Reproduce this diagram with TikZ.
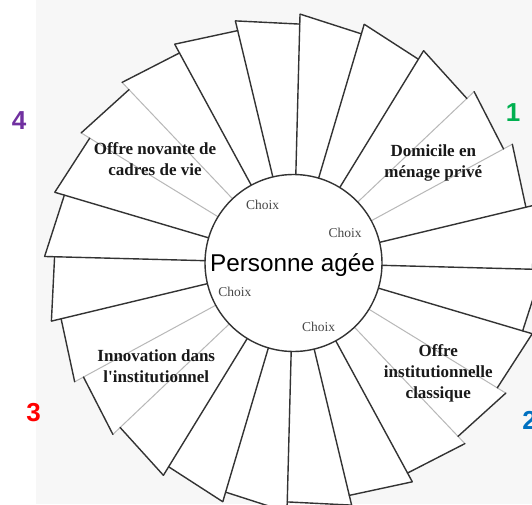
\documentclass[tikz,border=0pt]{standalone}
\usepackage{fontspec}
\setmainfont{Liberation Serif}[Ligatures=TeXOff]
\newfontfamily\arialf{Liberation Sans}
\definecolor{numgreen}{HTML}{00B050}
\definecolor{numblue}{HTML}{0070C0}
\definecolor{numred}{HTML}{FF0000}
\definecolor{numpurple}{HTML}{7030A0}
\definecolor{linedark}{HTML}{333333}
\definecolor{linelight}{HTML}{B8B8B8}
\begin{document}
\begin{tikzpicture}[x=1pt,y=1pt,
  darkedge/.style={draw=linedark, line width=1.4pt, line join=miter},
  lightedge/.style={draw=linelight, line width=1pt},
  lbl/.style={font=\fontsize{17}{21}\selectfont\bfseries, align=center, text=black!90, inner sep=0pt},
  choix/.style={font=\fontsize{13.5}{16}\selectfont, text=black!72, inner sep=0pt, anchor=base},
  num/.style={font=\arialf\fontsize{26}{30}\selectfont\bfseries, inner sep=0pt}]
\useasboundingbox (0,0) rectangle (532,504);
\clip (0,0) rectangle (532,504);
\fill[black!3] (36,0) rectangle (532,504);
\coordinate (C) at (293.5,241);
\def\Ri{88.5}
\def\Ro{249}
\def\Rt{239}
% card faces
\foreach \k in {0,...,23} {
  \pgfmathsetmacro\a{88.5-15*\k}
  \pgfmathsetmacro\b{\a-15}
  \fill[white] ([shift={(C)}]\a:\Ri) -- ([shift={(C)}]\a:\Ro) -- ([shift={(C)}]\b:\Rt) -- ([shift={(C)}]\b:\Ri) -- cycle;
}
% light leading edges
\foreach \k in {3,4,8,9,15,16,20,21} {
  \pgfmathsetmacro\a{88.5-15*\k}
  \draw[lightedge] ([shift={(C)}]\a:\Ri) -- ([shift={(C)}]\a:\Ro);
}
% dark leading edges
\foreach \k in {0,1,2,5,6,7,10,11,12,13,14,17,18,19,22,23} {
  \pgfmathsetmacro\a{88.5-15*\k}
  \draw[darkedge] ([shift={(C)}]\a:\Ri) -- ([shift={(C)}]\a:\Ro);
}
% outer edges
\foreach \k in {0,...,23} {
  \pgfmathsetmacro\a{88.5-15*\k}
  \pgfmathsetmacro\b{\a-15}
  \draw[darkedge, line cap=round] ([shift={(C)}]\a:\Ro) -- ([shift={(C)}]\b:\Rt);
}
% hub
\draw[darkedge, fill=white] (C) circle (\Ri);
\node[font=\arialf\fontsize{24.3}{28}\selectfont, inner sep=0pt, anchor=base] (pa) at (292.5,232.3) {Personne agée};
\node[choix] (c1) at (262.5,294.7) {Choix};
\node[choix] (c2) at (345.2,266.7) {Choix};
\node[choix] (c3) at (234.8,208) {Choix};
\node[choix] (c4) at (318.5,172.3) {Choix};
% labels
\node[lbl] (l1) at (433.3,341.5) {Domicile en\\ménage privé};
\node[lbl] (l2) at (438.3,130.2) {Offre\\institutionnelle\\classique};
\node[lbl] (l3) at (156.3,137.6) {Innovation dans\\l'institutionnel};
\node[lbl] (l4) at (155,344.8) {Offre novante de\\cadres de vie};
% numbers
\node[num, text=numgreen] (n1) at (513,391) {1};
\node[num, text=numblue] (n2) at (529.5,83.3) {2};
\node[num, text=numred] (n3) at (33.7,91.5) {3};
\node[num, text=numpurple] (n4) at (19.2,383.2) {4};
\end{tikzpicture}
\end{document}
